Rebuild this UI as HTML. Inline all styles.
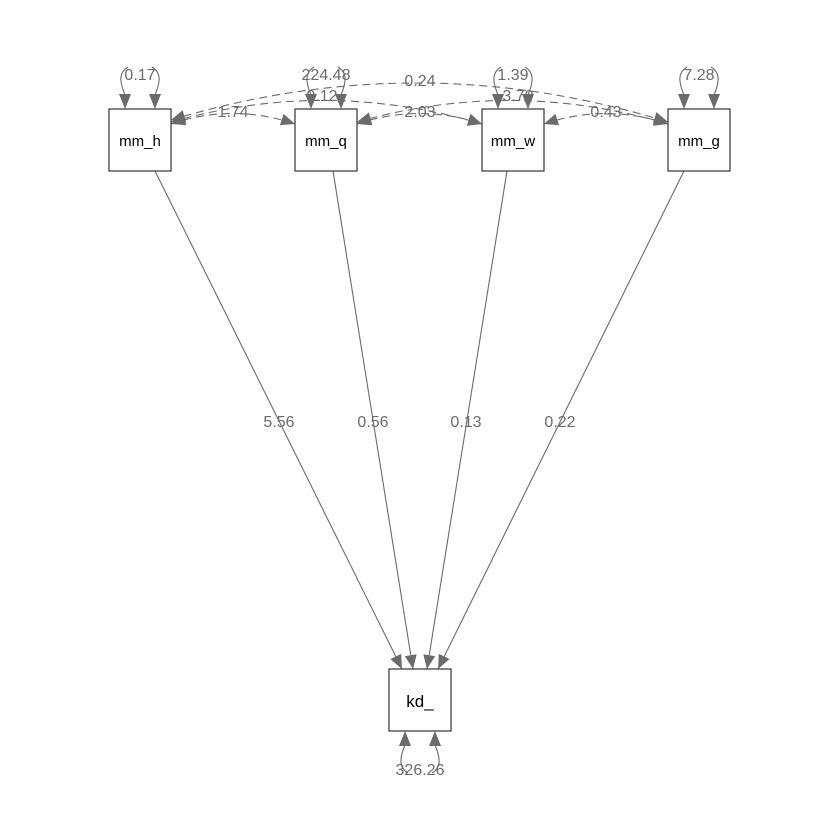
<!DOCTYPE html>
<html><head><style>body{margin:0;background:#fff}svg{display:block}</style></head><body>
<svg width="840" height="840" viewBox="0 0 840 840" xmlns="http://www.w3.org/2000/svg" font-family="Liberation Sans, sans-serif">
<defs>
<marker id="a" viewBox="0 0 14 12" refX="14" refY="6" markerWidth="14" markerHeight="12" orient="auto-start-reverse" markerUnits="userSpaceOnUse">
<path d="M0,0 L14,6 L0,12 z" fill="#6b6b6b"/>
</marker>
<g id="loop">
<path d="M-12,-42 C-22,-36 -20,-26 -15,-14 M12,-42 C22,-36 20,-26 15,-14" fill="none" stroke="#6b6b6b" stroke-width="1.1"/>
<path d="M-21,-15 L-9,-15 L-15,0 z M9,-15 L21,-15 L15,0 z" fill="#6b6b6b"/>
</g>
</defs>
<g stroke="#6b6b6b" fill="none" stroke-width="1.1">
<line x1="155" y1="171" x2="402" y2="669" marker-end="url(#a)"/>
<line x1="333" y1="171" x2="413" y2="669" marker-end="url(#a)"/>
<line x1="507" y1="171" x2="427" y2="669" marker-end="url(#a)"/>
<line x1="684" y1="171" x2="438" y2="669" marker-end="url(#a)"/>
<g stroke-dasharray="8,5">
<path d="M171,124 Q233,103 295,124" marker-start="url(#a)" marker-end="url(#a)"/>
<path d="M171,122 Q326,78 482,124" marker-start="url(#a)" marker-end="url(#a)"/>
<path d="M171,120 Q420,45 668,122" marker-start="url(#a)" marker-end="url(#a)"/>
<path d="M357,124 Q420,103 482,124" marker-start="url(#a)" marker-end="url(#a)"/>
<path d="M357,122 Q512,78 668,124" marker-start="url(#a)" marker-end="url(#a)"/>
<path d="M544,124 Q606,103 668,124" marker-start="url(#a)" marker-end="url(#a)"/>
</g>
</g>
<use href="#loop" transform="translate(140,109)"/>
<use href="#loop" transform="translate(326,109)"/>
<use href="#loop" transform="translate(513,109)"/>
<use href="#loop" transform="translate(699,109)"/>
<use href="#loop" transform="translate(420,731) scale(1,-1)"/>
<g fill="#fff" stroke="#333" stroke-width="1.2">
<rect x="109" y="109" width="62" height="62"/>
<rect x="295" y="109" width="62" height="62"/>
<rect x="482" y="109" width="62" height="62"/>
<rect x="668" y="109" width="62" height="62"/>
<rect x="389" y="669" width="62" height="62"/>
</g>
<g font-size="15" text-anchor="middle" fill="#000">
<text x="140" y="146">mm_h</text><text x="326" y="146">mm_q</text><text x="513" y="146">mm_w</text><text x="699" y="146">mm_g</text>
<text x="420" y="707" font-size="17">kd_</text>
</g>
<g font-size="16" text-anchor="middle" fill="#6b6b6b">
<text x="279" y="427">5.56</text><text x="373" y="427">0.56</text><text x="466" y="427">0.13</text><text x="560" y="427">0.22</text>
<text x="140" y="80">0.17</text><text x="326" y="80">224.48</text><text x="513" y="80">1.39</text><text x="699" y="80">7.28</text>
<text x="420" y="775">326.26</text>
<text x="420" y="86">0.24</text><text x="322" y="101">0.12</text><text x="518" y="101">3.70</text>
<text x="233" y="117">1.74</text><text x="420" y="117">2.03</text><text x="606" y="117">0.43</text>
</g>
</svg>
</body></html>
